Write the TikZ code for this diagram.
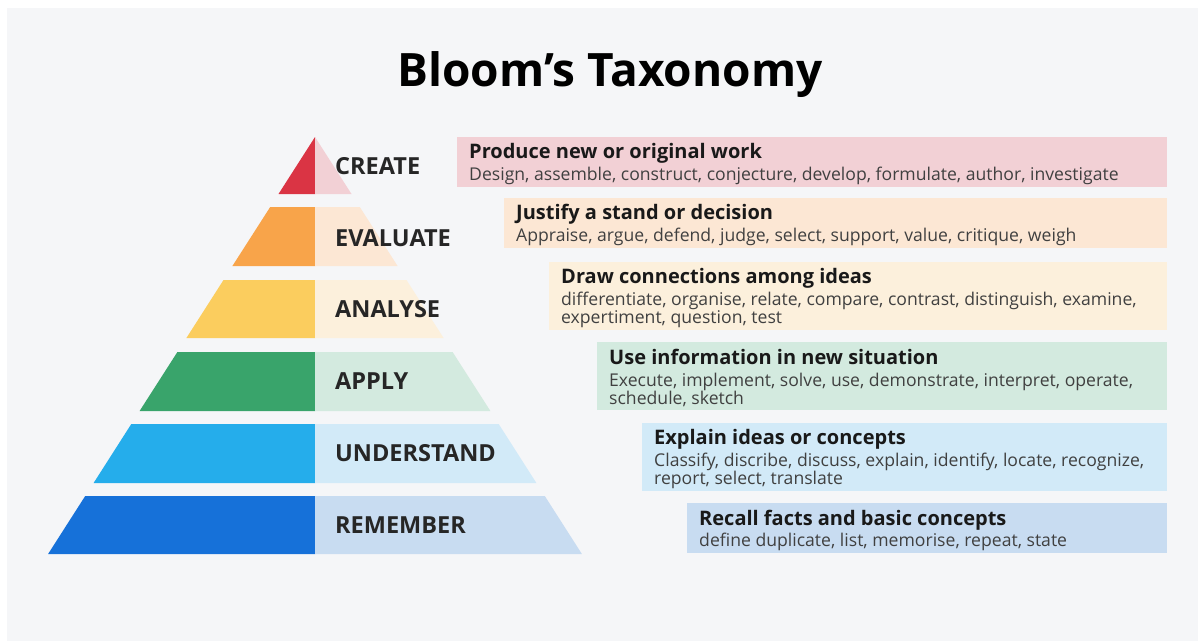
\documentclass[tikz,border=0pt]{standalone}
\usepackage{fontspec}
\setmainfont{Open Sans}
\usetikzlibrary{positioning}

\definecolor{pagebg}{HTML}{F5F6F8}
\definecolor{createD}{HTML}{DA3444}
\definecolor{createL}{HTML}{F2D0D5}
\definecolor{evalD}{HTML}{F8A44A}
\definecolor{evalL}{HTML}{FCE7D4}
\definecolor{anaD}{HTML}{FBCD5E}
\definecolor{anaL}{HTML}{FCF0DC}
\definecolor{appD}{HTML}{39A46B}
\definecolor{appL}{HTML}{D3EADF}
\definecolor{undD}{HTML}{25ADEB}
\definecolor{undL}{HTML}{D2EAF8}
\definecolor{remD}{HTML}{1671D9}
\definecolor{remL}{HTML}{C8DCF1}

\newcommand{\boxhead}[1]{{\fontsize{20}{22}\selectfont\bfseries\color{black!90}#1}}

\tikzset{
  lvl/.style={anchor=west, inner sep=0pt, text=black!85,
    font=\fontsize{23.5}{26}\selectfont\bfseries},
  infobox/.style={anchor=north west, inner sep=0pt, minimum height=#1},
  infotext/.style={anchor=west, align=left, inner sep=0pt, text=black!75,
    yshift=-2pt, font=\fontsize{17.6}{18.5}\selectfont},
}

\begin{document}
\begin{tikzpicture}[x=1pt,y=-1pt]

\useasboundingbox (0,0) rectangle (1198,641);
\fill[white] (0,0) rectangle (1198,641);
\fill[pagebg] (7,8) rectangle (1198,641);

\node at (610,75) (title) {\fontsize{46}{52}\selectfont\bfseries Bloom’s Taxonomy};

% pyramid, left half dark and right half light
\fill[createD] (315,137) -- (278.5,194) -- (315,194) -- cycle;
\fill[createL] (315,137) -- (351.5,194) -- (315,194) -- cycle;
\fill[evalD] (270.2,207) -- (315,207) -- (315,266) -- (232.4,266) -- cycle;
\fill[evalL] (315,207) -- (359.8,207) -- (397.6,266) -- (315,266) -- cycle;
\fill[anaD] (223.5,280) -- (315,280) -- (315,338) -- (186.4,338) -- cycle;
\fill[anaL] (315,280) -- (406.5,280) -- (443.6,338) -- (315,338) -- cycle;
\fill[appD] (177.4,352) -- (315,352) -- (315,411) -- (139.6,411) -- cycle;
\fill[appL] (315,352) -- (452.6,352) -- (490.4,411) -- (315,411) -- cycle;
\fill[undD] (131.3,424) -- (315,424) -- (315,483) -- (93.6,483) -- cycle;
\fill[undL] (315,424) -- (498.7,424) -- (536.4,483) -- (315,483) -- cycle;
\fill[remD] (85.2,496) -- (315,496) -- (315,554) -- (48.1,554) -- cycle;
\fill[remL] (315,496) -- (544.8,496) -- (581.9,554) -- (315,554) -- cycle;

\node[lvl] at (335,166) (create) {CREATE};
\node[lvl] at (335,238) (evaluate) {EVALUATE};
\node[lvl] at (335,309) (analyse) {ANALYSE};
\node[lvl] at (335,381) (apply) {APPLY};
\node[lvl] at (335,453) (understand) {UNDERSTAND};
\node[lvl] at (335,525) (remember) {REMEMBER};

% description boxes
\node[infobox=50pt, minimum width=710pt, fill=createL] at (457,137) (createbox) {};
\node[infobox=50pt, minimum width=663pt, fill=evalL] at (504,198) (evalbox) {};
\node[infobox=68pt, minimum width=618pt, fill=anaL] at (549,262) (anabox) {};
\node[infobox=68pt, minimum width=570pt, fill=appL] at (597,342) (appbox) {};
\node[infobox=68pt, minimum width=525pt, fill=undL] at (642,423) (undbox) {};
\node[infobox=50pt, minimum width=480pt, fill=remL] at (687,503) (rembox) {};

\node[infotext, right=12pt of createbox.west] (createtxt)
  {\boxhead{Produce new or original work}\\[3pt]
   Design, assemble, construct, conjecture, develop, formulate, author, investigate};
\node[infotext, right=12pt of evalbox.west] (evaltxt)
  {\boxhead{Justify a stand or decision}\\[3pt]
   Appraise, argue, defend, judge, select, support, value, critique, weigh};
\node[infotext, right=12pt of anabox.west] (anatxt)
  {\boxhead{Draw connections among ideas}\\[3pt]
   differentiate, organise, relate, compare, contrast, distinguish, examine,\\
   expertiment, question, test};
\node[infotext, right=12pt of appbox.west] (apptxt)
  {\boxhead{Use information in new situation}\\[3pt]
   Execute, implement, solve, use, demonstrate, interpret, operate,\\
   schedule, sketch};
\node[infotext, right=12pt of undbox.west] (undtxt)
  {\boxhead{Explain ideas or concepts}\\[3pt]
   Classify, discribe, discuss, explain, identify, locate, recognize,\\
   report, select, translate};
\node[infotext, right=12pt of rembox.west] (remtxt)
  {\boxhead{Recall facts and basic concepts}\\[3pt]
   define duplicate, list, memorise, repeat, state};

\end{tikzpicture}
\end{document}
